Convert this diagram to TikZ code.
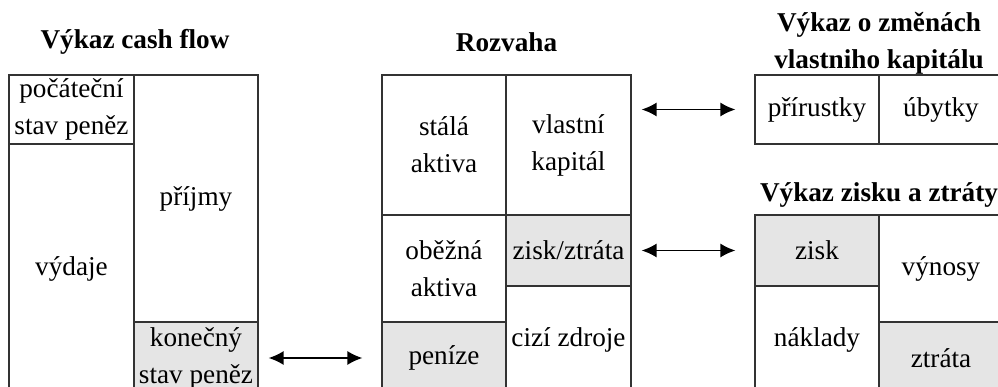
\documentclass[tikz,border=0pt]{standalone}
\usepackage{fontspec}
\setmainfont{Liberation Serif}
\usetikzlibrary{arrows.meta}

\begin{document}
\begin{tikzpicture}[x=1pt, y=-1pt, line width=1.2pt, cell/.style={draw=black!80, inner sep=0pt, align=center, minimum width=124pt, font=\fontsize{27.2}{37}\selectfont}, money/.style={cell, fill=black!10}, title/.style={align=center, inner sep=0pt, font=\fontsize{27.2}{37}\selectfont\bfseries}, link/.style={{Latex[length=15pt,width=14pt]}-{Latex[length=15pt,width=14pt]}, line width=1.6pt, shorten <=10pt, shorten >=19pt}]%
\clip (0,0) rectangle (998,387);
% cash flow
\node[title] (cftitle) at (135,42) {Výkaz cash flow};
\node[cell, minimum width=125pt, minimum height=69pt] (pocatek) at (71.5,109.5) {počáteční\\stav peněz};
\node[cell, minimum width=125pt, minimum height=250pt] (vydaje) at (71.5,269) {výdaje};
\node[cell, minimum height=247pt] (prijmy) at (196,198.5) {příjmy};
\node[money, minimum height=72pt] (konec) at (196,358) {konečný\\stav peněz};
% rozvaha
\node[title] (rztitle) at (506.5,42) {Rozvaha};
\node[cell, minimum height=140pt] (stala) at (444,145) {stálá\\aktiva};
\node[cell, minimum height=107pt] (obezna) at (444,268.5) {oběžná\\aktiva};
\node[money, minimum height=72pt] (penize) at (444,358) {peníze};
\node[cell, minimum width=125pt, minimum height=140pt] (vlastni) at (568.5,145) {vlastní\\kapitál};
\node[money, minimum width=125pt, minimum height=71pt] (vysledek) at (568.5,250.5) {zisk/ztráta};
\node[cell, minimum width=125pt, minimum height=108pt] (cizi) at (568.5,340) {cizí zdroje};
% zmeny vlastniho kapitalu
\node[title] (vktitle) at (879,43.5) {Výkaz o změnách\\vlastniho kapitálu};
\node[cell, minimum height=69pt] (prirustky) at (817,109.5) {přírustky};
\node[cell, minimum height=69pt] (ubytky) at (941,109.5) {úbytky};
% zisk a ztrata
\node[title] (zztitle) at (879,195) {Výkaz zisku a ztráty};
\node[money, minimum height=71pt] (zisk) at (817,250.5) {zisk};
\node[cell, minimum height=108pt] (naklady) at (817,340) {náklady};
\node[cell, minimum height=107pt] (vynosy) at (941,268.5) {výnosy};
\node[money, minimum height=72pt] (ztrata) at (941,358) {ztráta};
% vazby
\draw[link] (konec.east) -- (penize.west);
\draw[link] (vlastni.east |- prirustky.west) -- (prirustky.west);
\draw[link] (vysledek.east) -- (zisk.west);
\end{tikzpicture}
\end{document}
